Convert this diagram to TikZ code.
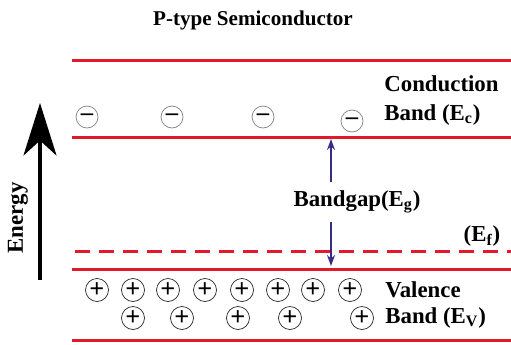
\documentclass[tikz,border=0pt]{standalone}
\usepackage{fontspec}
\setmainfont{Liberation Serif}[BoldFont={Liberation Serif Bold}]
\usetikzlibrary{arrows.meta}
\definecolor{bandred}{RGB}{225,25,40}
\definecolor{gapblue}{RGB}{55,45,135}
\tikzset{band/.style={bandred,line width=0.06cm},
 fermi/.style={bandred,line width=0.06cm,dash pattern=on 0.3cm off 0.18cm},
 every node/.style={font=\bfseries}}

\begin{document}
\begin{tikzpicture}[x=0.02cm,y=-0.02cm,
 electron/.style={circle,draw=gray,thin,inner sep=0pt,minimum size=0.44cm,font=\bfseries\fontsize{14}{14}\selectfont},
 hole/.style={circle,draw=black!85,thin,inner sep=0pt,minimum size=0.46cm,font=\bfseries\fontsize{15}{15}\selectfont},
 lbl/.style={font=\bfseries\fontsize{13}{15}\selectfont,inner sep=0pt}]
\useasboundingbox (0,0) rectangle (511,345);
\node[font=\bfseries\fontsize{12}{14}\selectfont] (title) at (253,20) {P-type Semiconductor};
% band edges
\draw[band] (72,60) -- (511,60);
\draw[band] (72,137) -- (511,137);
\draw[fermi] (75,251) -- (511,251);
\draw[band] (72,269) -- (511,269);
\draw[band] (72,340) -- (511,340);
% energy axis
\coordinate (ebot) at (40,280);
\coordinate (etop) at (40,103);
\draw[line width=0.07cm,-{Stealth[length=1.05cm,width=0.66cm,inset=0.3cm]}] (ebot) -- (etop);
\node[lbl,rotate=90] (energy) at (18,218) {Energy};
% electrons in conduction band
\foreach \x/\y [count=\i] in {87/117,172/117,263/117,352/121}
  \node[electron] (e\i) at (\x,\y) {--};
% holes in valence band
\foreach \x [count=\i] in {97,133,168,205,242,278,313,350}
  \node[hole] (h\i) at (\x,290) {+};
\foreach \x [count=\i] in {133,182,238,290,362}
  \node[hole] (k\i) at (\x,318) {+};
% labels
\node[lbl,anchor=west] (cond) at (384,84) {Conduction};
\node[lbl,anchor=west] (cband) at (384,115) {Band (E\textsubscript{c})};
\node[lbl,anchor=west] (val) at (385,290) {Valence};
\node[lbl,anchor=west] (vband) at (385,318) {Band (E\textsubscript{V})};
\node[lbl] (ef) at (482,236) {(E\textsubscript{f})};
% bandgap
\node[lbl] (gap) at (357,202) {Bandgap(E\textsubscript{g})};
\coordinate (cbtop) at (331,139);
\coordinate (vbtop) at (331,266);
\draw[gapblue,thick,-{Stealth[length=0.22cm,width=0.16cm]}] (gap.north -| cbtop) ++(0,-8) -- (cbtop);
\draw[gapblue,thick,-{Stealth[length=0.22cm,width=0.16cm]}] (gap.south -| vbtop) ++(0,8) -- (vbtop);
\end{tikzpicture}
\end{document}
